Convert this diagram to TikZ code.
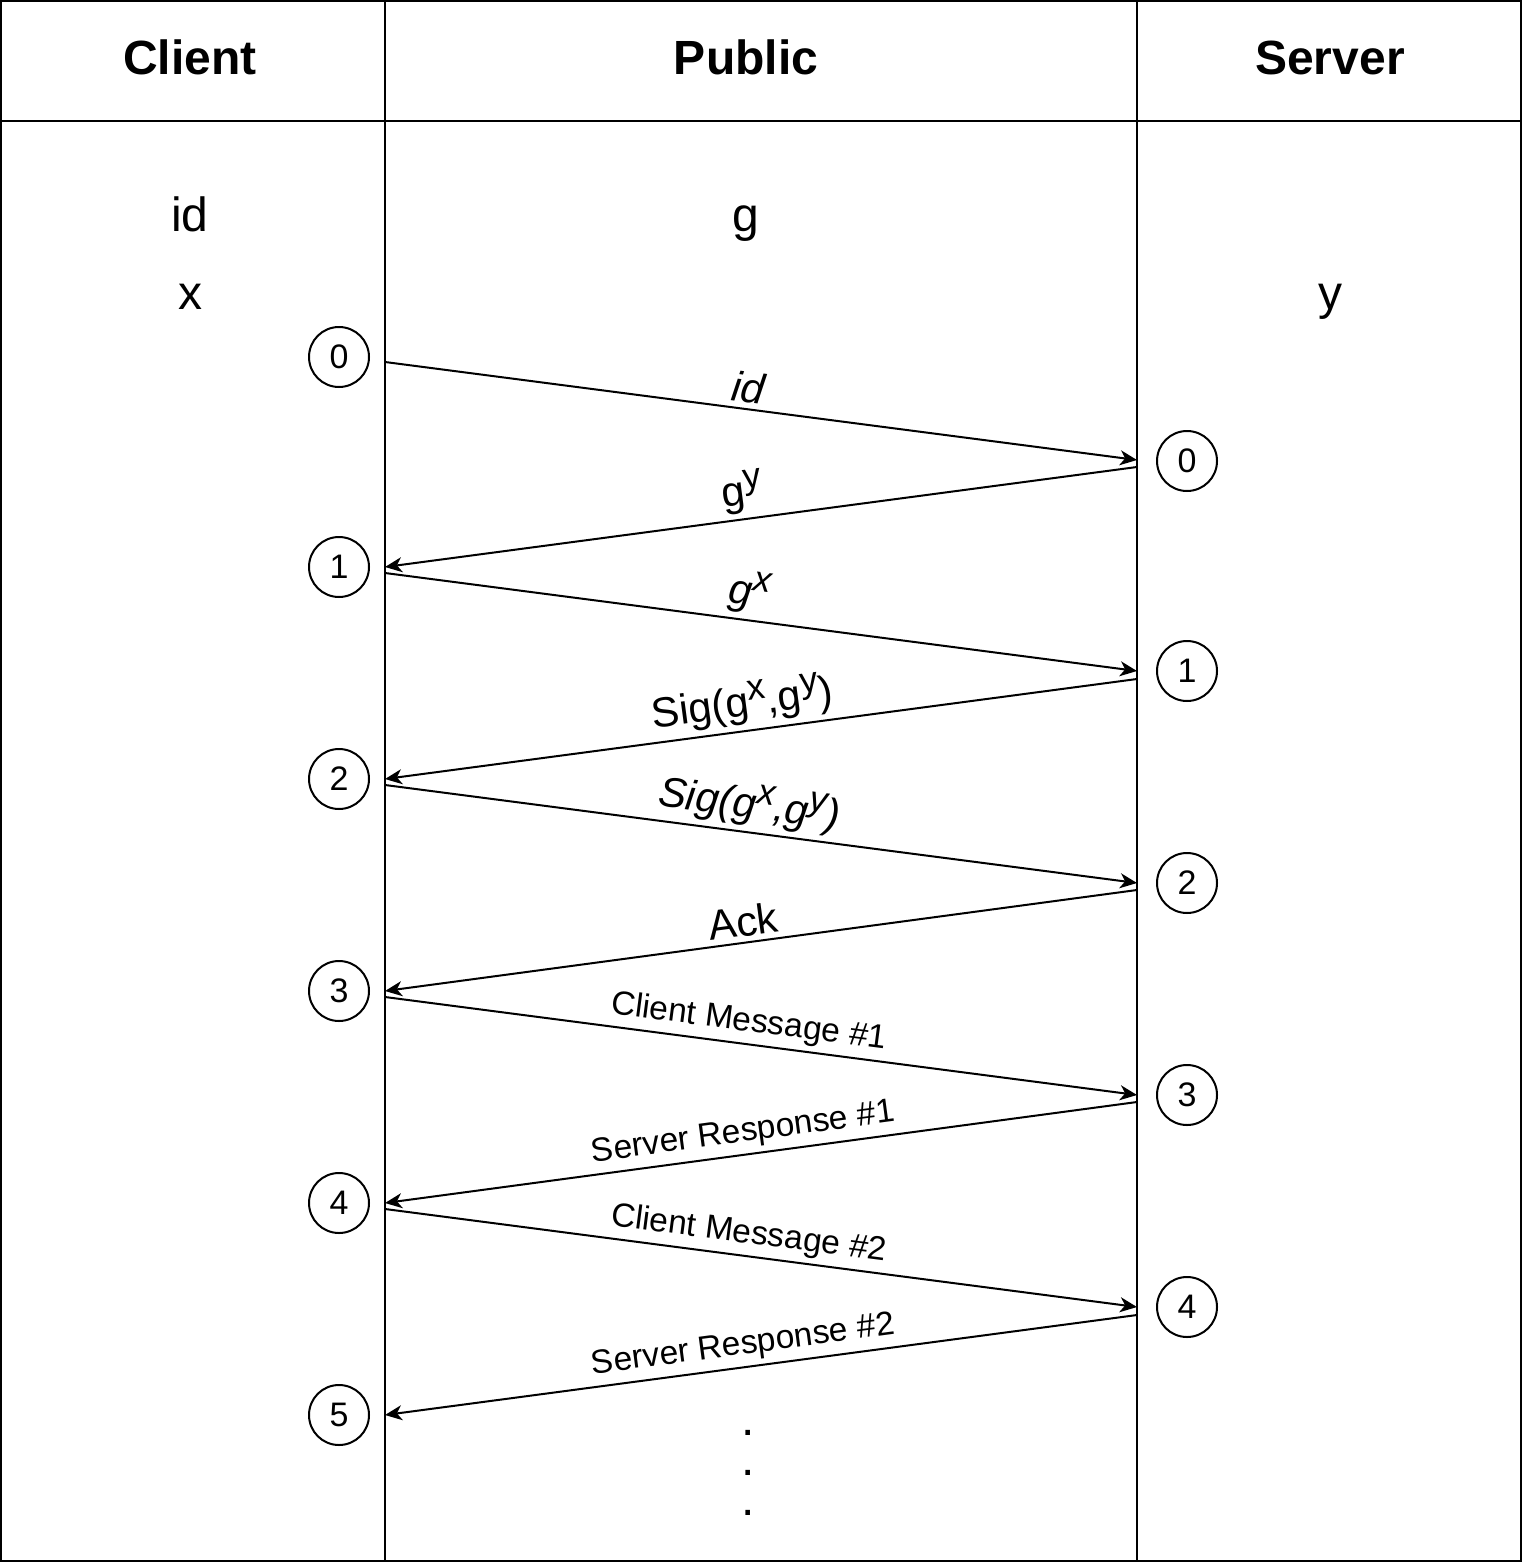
\documentclass[tikz,border=0pt]{standalone}
\usepackage{fontspec}
\setmainfont{Liberation Sans}
\usetikzlibrary{arrows.meta}

\newcommand{\msgsup}[1]{\raisebox{0.36em}{\fontsize{36}{40}\selectfont #1}}

\begin{document}
\begin{tikzpicture}[
        x=1pt, y=-1pt,
        lane/.style={draw=black, line width=2pt},
        header/.style={anchor=base, font=\fontsize{48}{58}\selectfont\bfseries},
        var/.style={anchor=base, font=\fontsize{48}{58}\selectfont},
        state/.style={circle, draw=black, line width=2pt, minimum size=60pt, inner sep=0pt, font=\fontsize{34}{40}\selectfont},
        msg/.style={-{Stealth[length=17pt, width=15pt, inset=5pt]}, line width=2pt},
        biglabel/.style={sloped, above, inner sep=5pt, font=\fontsize{42}{50}\selectfont},
        smalllabel/.style={sloped, above, inner sep=5pt, font=\fontsize{33.5}{40}\selectfont}
    ]
        \useasboundingbox (0,0) rectangle (1522,1562);

        % Lanes
        \draw[lane] (1,1) rectangle (1521,1561);
        \draw[lane] (0,121) -- (1522,121);
        \draw[lane] (385,0) -- (385,1562);
        \draw[lane] (1137,0) -- (1137,1562);

        % Headers
        \node[header] (client) at (190,75) {Client};
        \node[header] (public) at (746,75) {Public};
        \node[header] (server) at (1330,75) {Server};

        % Values held by each side
        \node[var] (cid) at (190,232) {id};
        \node[var] (cx) at (190,309) {x};
        \node[var] (pg) at (746,232) {g};
        \node[var] (sy) at (1330,309) {y};

        % Client states
        \node[state] (cs0) at (339,357) {0};
        \node[state] (cs1) at (339,567) {1};
        \node[state] (cs2) at (339,779) {2};
        \node[state] (cs3) at (339,991) {3};
        \node[state] (cs4) at (339,1203) {4};
        \node[state] (cs5) at (339,1415) {5};

        % Server states
        \node[state] (ss0) at (1187,461) {0};
        \node[state] (ss1) at (1187,671) {1};
        \node[state] (ss2) at (1187,883) {2};
        \node[state] (ss3) at (1187,1095) {3};
        \node[state] (ss4) at (1187,1307) {4};

        % Message ends on the lanes
        \coordinate (cout0) at (385,362);
        \coordinate (cout1) at (385,573);
        \coordinate (cout2) at (385,785);
        \coordinate (cout3) at (385,997);
        \coordinate (cout4) at (385,1209);
        \coordinate (cin1) at (385,567);
        \coordinate (cin2) at (385,779);
        \coordinate (cin3) at (385,991);
        \coordinate (cin4) at (385,1203);
        \coordinate (cin5) at (385,1415);
        \coordinate (sin0) at (1137,460);
        \coordinate (sin1) at (1137,671);
        \coordinate (sin2) at (1137,883);
        \coordinate (sin3) at (1137,1095);
        \coordinate (sin4) at (1137,1307);
        \coordinate (sout0) at (1137,467);
        \coordinate (sout1) at (1137,679);
        \coordinate (sout2) at (1137,890);
        \coordinate (sout3) at (1137,1102);
        \coordinate (sout4) at (1137,1315);

        % Messages
        \draw[msg] (cout0) -- node[biglabel, pos=0.48] (lid) {\itshape id} (sin0);
        \draw[msg] (sout0) -- node[biglabel, pos=0.52] (lgy) {g\msgsup{y}} (cin1);
        \draw[msg] (cout1) -- node[biglabel, pos=0.48] (lgx) {\itshape g\msgsup{x}} (sin1);
        \draw[msg] (sout1) -- node[biglabel, pos=0.52] (lsig) {Sig(g\msgsup{x},g\msgsup{y})} (cin2);
        \draw[msg] (cout2) -- node[biglabel, pos=0.48] (lsigc) {\itshape Sig(g\msgsup{x},g\msgsup{y})} (sin2);
        \draw[msg] (sout2) -- node[biglabel, pos=0.52] (lack) {Ack} (cin3);
        \draw[msg] (cout3) -- node[smalllabel, pos=0.48] (lcm1) {Client Message \#1} (sin3);
        \draw[msg] (sout3) -- node[smalllabel, pos=0.52] (lsr1) {Server Response \#1} (cin4);
        \draw[msg] (cout4) -- node[smalllabel, pos=0.48] (lcm2) {Client Message \#2} (sin4);
        \draw[msg] (sout4) -- node[smalllabel, pos=0.52] (lsr2) {Server Response \#2} (cin5);

        % Continuation
        \node[var] (dot1) at (748,1435) {.};
        \node[var] (dot2) at (748,1475) {.};
        \node[var] (dot3) at (748,1515) {.};
    \end{tikzpicture}
\end{document}
